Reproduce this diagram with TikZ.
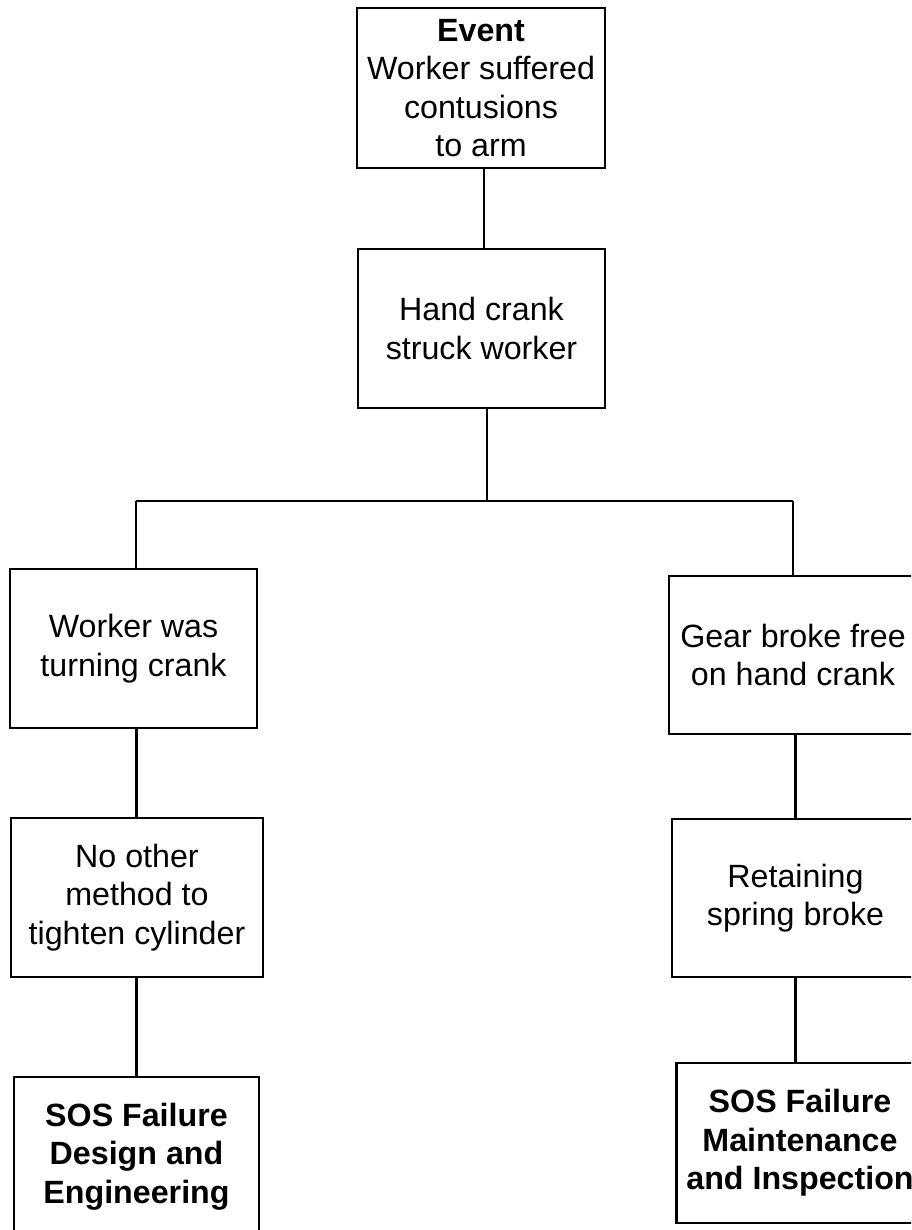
\documentclass[tikz,border=0pt]{standalone}
\usepackage{fontspec}
\setmainfont{Liberation Sans}
\begin{document}
\begin{tikzpicture}[x=1pt,y=1pt,
  box/.style={draw=black, line width=2.6pt, rectangle, inner sep=0pt, align=center,
    font=\fontsize{32.2}{38.5}\selectfont},
  conn/.style={draw=black, line width=2.4pt}]
\useasboundingbox (0,0) rectangle (911,-1230);
\clip (0,0) rectangle (911,-1230);
\node[box, minimum width=248, minimum height=160] (b1) at (481,-88) {\textbf{Event}\\Worker suffered\\contusions\\to arm};
\node[box, minimum width=247, minimum height=159] (b2) at (481.5,-328.5) {Hand crank\\struck worker};
\node[box, minimum width=247, minimum height=159] (b3) at (133.5,-648.5) {Worker was\\turning crank};
\node[box, minimum width=248, minimum height=158] (b4) at (793,-655) {Gear broke free\\on hand crank};
\node[box, minimum width=252, minimum height=159] (b5) at (137,-897.5) {No other\\method to\\tighten cylinder};
\node[box, minimum width=247, minimum height=158] (b6) at (795.5,-898) {Retaining\\spring broke};
\node[box, minimum width=245, minimum height=159] (b7) at (136.5,-1156.5) {\textbf{SOS Failure}\\\textbf{Design and}\\\textbf{Engineering}};
\node[box, minimum width=247, minimum height=160] (b8) at (800,-1143) {\textbf{SOS Failure}\\\textbf{Maintenance}\\\textbf{and Inspection}};
\coordinate (j) at (487,-501);
\coordinate (jl) at (136,-501);
\coordinate (jr) at (793,-501);
\draw[conn] (b1.south) ++(3,0) -- ++(0,-79);
\draw[conn] (b2.south -| j) -- (j);
\draw[conn] (jl) -- (jr);
\draw[conn] (jl) -- (jl |- b3.north);
\draw[conn] (jr) -- (jr |- b4.north);
\coordinate (cl) at (136.5,0);
\coordinate (cr) at (795.5,0);
\draw[conn] (cl |- b3.south) -- (cl |- b5.north);
\draw[conn] (cr |- b4.south) -- (cr |- b6.north);
\draw[conn] (cl |- b5.south) -- (cl |- b7.north);
\draw[conn] (cr |- b6.south) -- (cr |- b8.north);
\end{tikzpicture}
\end{document}
